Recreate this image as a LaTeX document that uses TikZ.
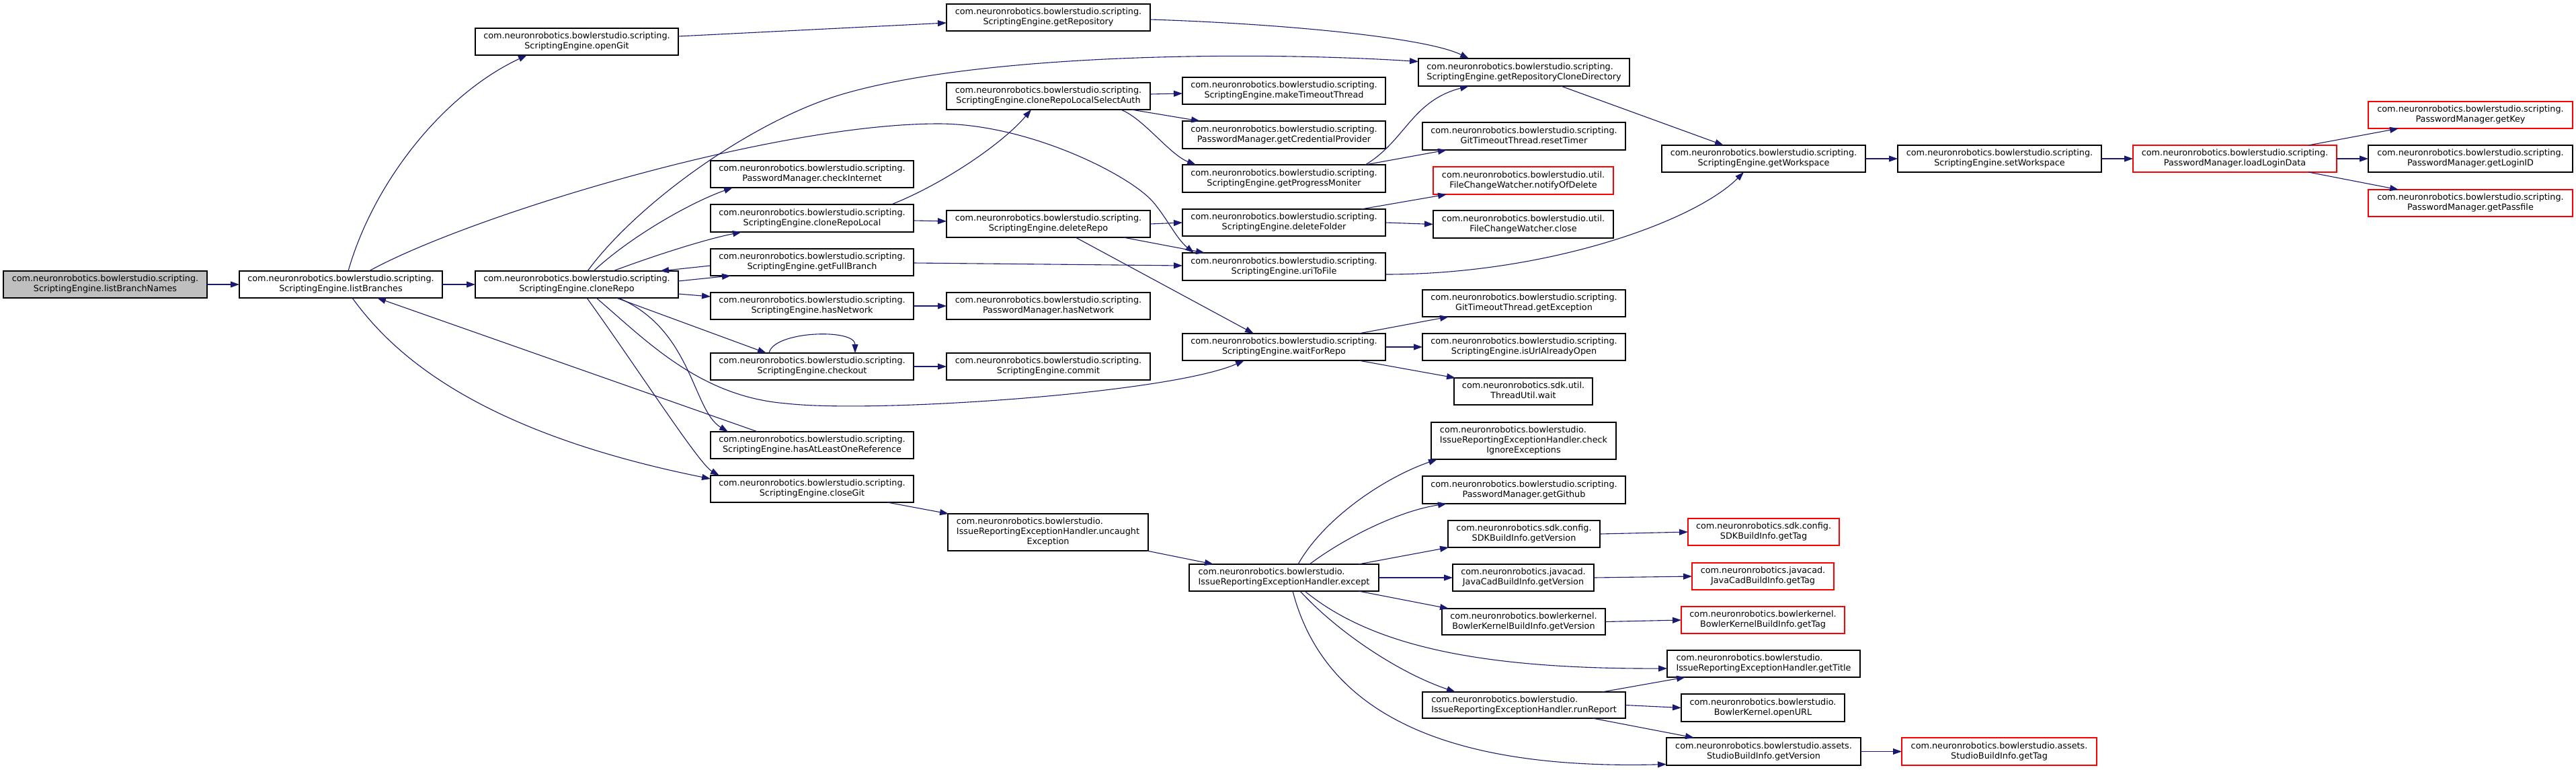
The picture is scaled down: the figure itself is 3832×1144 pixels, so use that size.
\documentclass[tikz,border=0pt]{standalone}
\usepackage{fontspec}
\setmainfont{DejaVu Sans}
\usetikzlibrary{arrows.meta}
\definecolor{edgeblue}{HTML}{191970}
\definecolor{nodegray}{HTML}{BFBFBF}
\definecolor{boxred}{HTML}{FF0000}
\newcommand{\twol}[2]{\begin{tabular}{@{}l@{}}#1\\\multicolumn{1}{@{}c@{}}{#2}\end{tabular}}
\newcommand{\threel}[3]{\begin{tabular}{@{}l@{}}#1\\#2\\\multicolumn{1}{@{}c@{}}{#3}\end{tabular}}
\newcommand{\dnode}[7][]{\node[nbox,#1,minimum width={(#5-#3)*1pt},minimum height={(#6-#4)*1pt}] (#2) at ({(#3+#5)/2},{(#4+#6)/2}) {#7};}
\tikzset{
  nbox/.style={draw=black, fill=white, line width=1.2pt, inner sep=0pt, outer sep=0pt, rectangle,
    font=\fontsize{12.8}{15}\selectfont},
  cnx/.style={draw=edgeblue, line width=1.1pt, -{Triangle[length=13pt,width=9pt]}},
}
\begin{document}
\begin{tikzpicture}[x=1pt,y=-1pt]
\useasboundingbox (0,0) rectangle (3832,1144);
\fill[white] (0,0) rectangle (3832,1144);
% column 0-2
\dnode[fill=nodegray]{lbn}{5}{403}{308}{443}{\twol{com.neuronrobotics.bowlerstudio.scripting.}{ScriptingEngine.listBranchNames}}
\dnode{lb}{356}{403}{658}{443}{\twol{com.neuronrobotics.bowlerstudio.scripting.}{ScriptingEngine.listBranches}}
\dnode{cr}{707}{403}{1009}{443}{\twol{com.neuronrobotics.bowlerstudio.scripting.}{ScriptingEngine.cloneRepo}}
\dnode{og}{707}{42}{1009}{82}{\twol{com.neuronrobotics.bowlerstudio.scripting.}{ScriptingEngine.openGit}}
% column 3
\dnode{ci}{1057}{239}{1359}{279}{\twol{com.neuronrobotics.bowlerstudio.scripting.}{PasswordManager.checkInternet}}
\dnode{crl}{1057}{304}{1359}{345}{\twol{com.neuronrobotics.bowlerstudio.scripting.}{ScriptingEngine.cloneRepoLocal}}
\dnode{gfb}{1057}{370}{1359}{410}{\twol{com.neuronrobotics.bowlerstudio.scripting.}{ScriptingEngine.getFullBranch}}
\dnode{shn}{1057}{435}{1359}{475}{\twol{com.neuronrobotics.bowlerstudio.scripting.}{ScriptingEngine.hasNetwork}}
\dnode{co}{1057}{525}{1359}{565}{\twol{com.neuronrobotics.bowlerstudio.scripting.}{ScriptingEngine.checkout}}
\dnode{haor}{1057}{642}{1359}{682}{\twol{com.neuronrobotics.bowlerstudio.scripting.}{ScriptingEngine.hasAtLeastOneReference}}
\dnode{cg}{1057}{707}{1359}{747}{\twol{com.neuronrobotics.bowlerstudio.scripting.}{ScriptingEngine.closeGit}}
% column 4
\dnode{gr}{1408}{6}{1711}{46}{\twol{com.neuronrobotics.bowlerstudio.scripting.}{ScriptingEngine.getRepository}}
\dnode{crlsa}{1408}{123}{1711}{163}{\twol{com.neuronrobotics.bowlerstudio.scripting.}{ScriptingEngine.cloneRepoLocalSelectAuth}}
\dnode{dr}{1408}{313}{1711}{353}{\twol{com.neuronrobotics.bowlerstudio.scripting.}{ScriptingEngine.deleteRepo}}
\dnode{phn}{1408}{435}{1711}{475}{\twol{com.neuronrobotics.bowlerstudio.scripting.}{PasswordManager.hasNetwork}}
\dnode{cm}{1408}{525}{1711}{565}{\twol{com.neuronrobotics.bowlerstudio.scripting.}{ScriptingEngine.commit}}
\dnode{ue}{1410}{764}{1708}{819}{\threel{com.neuronrobotics.bowlerstudio.}{IssueReportingExceptionHandler.uncaught}{Exception}}
% column 5
\dnode{mtt}{1759}{115}{2061}{155}{\twol{com.neuronrobotics.bowlerstudio.scripting.}{ScriptingEngine.makeTimeoutThread}}
\dnode{gcp}{1759}{180}{2061}{221}{\twol{com.neuronrobotics.bowlerstudio.scripting.}{PasswordManager.getCredentialProvider}}
\dnode{gpm}{1759}{245}{2061}{286}{\twol{com.neuronrobotics.bowlerstudio.scripting.}{ScriptingEngine.getProgressMoniter}}
\dnode{df}{1759}{311}{2061}{351}{\twol{com.neuronrobotics.bowlerstudio.scripting.}{ScriptingEngine.deleteFolder}}
\dnode{utf}{1759}{376}{2061}{417}{\twol{com.neuronrobotics.bowlerstudio.scripting.}{ScriptingEngine.uriToFile}}
\dnode{wfr}{1759}{496}{2061}{536}{\twol{com.neuronrobotics.bowlerstudio.scripting.}{ScriptingEngine.waitForRepo}}
\dnode{ex}{1769}{839}{2051}{879}{\twol{com.neuronrobotics.bowlerstudio.}{IssueReportingExceptionHandler.except}}
% column 6
\dnode{grcd}{2110}{87}{2424}{128}{\twol{com.neuronrobotics.bowlerstudio.scripting.}{ScriptingEngine.getRepositoryCloneDirectory}}
\dnode{rt}{2116}{182}{2418}{223}{\twol{com.neuronrobotics.bowlerstudio.scripting.}{GitTimeoutThread.resetTimer}}
\dnode[draw=boxred]{nod}{2132}{248}{2400}{289}{\twol{com.neuronrobotics.bowlerstudio.util.}{FileChangeWatcher.notifyOfDelete}}
\dnode{fcwc}{2132}{313}{2400}{354}{\twol{com.neuronrobotics.bowlerstudio.util.}{FileChangeWatcher.close}}
\dnode{ge}{2116}{431}{2418}{471}{\twol{com.neuronrobotics.bowlerstudio.scripting.}{GitTimeoutThread.getException}}
\dnode{iuao}{2116}{496}{2418}{536}{\twol{com.neuronrobotics.bowlerstudio.scripting.}{ScriptingEngine.isUrlAlreadyOpen}}
\dnode{tuw}{2163}{562}{2369}{602}{\twol{com.neuronrobotics.sdk.util.}{ThreadUtil.wait}}
\dnode{cie}{2129}{628}{2404}{683}{\threel{com.neuronrobotics.bowlerstudio.}{IssueReportingExceptionHandler.check}{IgnoreExceptions}}
\dnode{gg}{2116}{708}{2418}{749}{\twol{com.neuronrobotics.bowlerstudio.scripting.}{PasswordManager.getGithub}}
\dnode{sdkv}{2154}{774}{2380}{814}{\twol{com.neuronrobotics.sdk.config.}{SDKBuildInfo.getVersion}}
\dnode{jcv}{2161}{839}{2371}{879}{\twol{com.neuronrobotics.javacad.}{JavaCadBuildInfo.getVersion}}
\dnode{bkv}{2145}{905}{2388}{944}{\twol{com.neuronrobotics.bowlerkernel.}{BowlerKernelBuildInfo.getVersion}}
\dnode{rr}{2116}{1029}{2418}{1068}{\twol{com.neuronrobotics.bowlerstudio.}{IssueReportingExceptionHandler.runReport}}
% column 7
\dnode{gws}{2472}{216}{2775}{256}{\twol{com.neuronrobotics.bowlerstudio.scripting.}{ScriptingEngine.getWorkspace}}
\dnode[draw=boxred]{sdkt}{2511}{771}{2736}{811}{\twol{com.neuronrobotics.sdk.config.}{SDKBuildInfo.getTag}}
\dnode[draw=boxred]{jct}{2517}{837}{2728}{877}{\twol{com.neuronrobotics.javacad.}{JavaCadBuildInfo.getTag}}
\dnode[draw=boxred]{bkt}{2501}{902}{2744}{942}{\twol{com.neuronrobotics.bowlerkernel.}{BowlerKernelBuildInfo.getTag}}
\dnode{gt}{2480}{967}{2767}{1007}{\twol{com.neuronrobotics.bowlerstudio.}{IssueReportingExceptionHandler.getTitle}}
\dnode{ou}{2501}{1032}{2744}{1073}{\twol{com.neuronrobotics.bowlerstudio.}{BowlerKernel.openURL}}
\dnode{sbv}{2479}{1097}{2768}{1138}{\twol{com.neuronrobotics.bowlerstudio.assets.}{StudioBuildInfo.getVersion}}
% columns 8-10
\dnode{sw}{2823}{216}{3126}{256}{\twol{com.neuronrobotics.bowlerstudio.scripting.}{ScriptingEngine.setWorkspace}}
\dnode[draw=boxred]{sbt}{2829}{1097}{3119}{1138}{\twol{com.neuronrobotics.bowlerstudio.assets.}{StudioBuildInfo.getTag}}
\dnode[draw=boxred]{lld}{3173}{216}{3476}{256}{\twol{com.neuronrobotics.bowlerstudio.scripting.}{PasswordManager.loadLoginData}}
\dnode[draw=boxred]{gk}{3523}{151}{3827}{191}{\twol{com.neuronrobotics.bowlerstudio.scripting.}{PasswordManager.getKey}}
\dnode{gli}{3523}{216}{3827}{256}{\twol{com.neuronrobotics.bowlerstudio.scripting.}{PasswordManager.getLoginID}}
\dnode[draw=boxred]{gpf}{3523}{282}{3827}{322}{\twol{com.neuronrobotics.bowlerstudio.scripting.}{PasswordManager.getPassfile}}

% ---------- connectors ----------
\draw[cnx] (lbn.east) -- (lb.west);
\draw[cnx] (lb.east) -- (cr.west);
\draw[cnx] ([xshift=162pt]lb.north west) .. controls (556,270) and (660,140) .. ([xshift=77pt]og.south west);
\draw[cnx] ([xshift=193pt]lb.north west) .. controls (700,320) and (1150,184) .. (1396,184)
  .. controls (1530,184) and (1680,260) .. (1715,300)
  .. controls (1735,323) and (1750,355) .. ([xshift=17pt]utf.north west);
\draw[cnx] ([xshift=168pt]lb.south west) .. controls (580,520) and (700,640) .. ([yshift=15pt]cg.west);
\draw[cnx] ([xshift=70pt]haor.north west) -- ([xshift=205pt]lb.south west);
\draw[cnx] ([xshift=167pt]cr.north west) .. controls (950,300) and (1120,180) .. (1250,141)
  .. controls (1450,81) and (1850,75) .. ([yshift=16pt]grcd.west);
\draw[cnx] ([xshift=176pt]cr.north west) .. controls (940,350) and (1030,300) .. ([xshift=33pt]ci.south west);
\draw[cnx] ([xshift=205pt]cr.north west) .. controls (960,385) and (1040,358) .. ([xshift=46pt]crl.south west);
\draw[cnx] ([yshift=-5pt]gfb.west) -- ([xshift=-27pt]cr.north east);
\draw[cnx] ([yshift=5pt]cr.east) -- ([xshift=30pt]gfb.south west);
\draw[cnx] ([yshift=-14pt]cr.east) -- ([yshift=14pt]shn.west);
\draw[cnx] ([xshift=210pt]cr.south west) -- ([xshift=83pt]co.north west);
\draw[cnx] ([xshift=87pt]co.north west) .. controls (1150,492) and (1272,488) .. ([xshift=215pt]co.north west);
\draw[cnx] (co.east) -- (cm.west);
\draw[cnx] ([xshift=180pt]cr.south west) .. controls (960,505) and (1040,590) .. (1170,600)
  .. controls (1300,615) and (1740,585) .. ([xshift=92pt]wfr.south west);
\draw[cnx] ([xshift=213pt]cr.south west) .. controls (1030,490) and (1030,610) .. ([xshift=26pt]haor.north west);
\draw[cnx] ([xshift=166pt]cr.south west) .. controls (950,550) and (1040,690) .. ([xshift=13pt]cg.north west);
\draw[cnx] ([xshift=269pt]crl.north west) .. controls (1400,275) and (1490,215) .. ([xshift=126pt]crlsa.south west);
\draw[cnx] ([yshift=-3.5pt]crl.east) -- ([yshift=4pt]dr.west);
\draw[cnx] ([yshift=-1pt]gfb.east) -- ([yshift=1.5pt]utf.west);
\draw[cnx] (shn.east) -- (phn.west);
\draw[cnx] ([yshift=8pt]og.east) -- ([yshift=-8pt]gr.west);
\draw[cnx] ([yshift=-3pt]gr.east) .. controls (1900,35) and (2120,55) .. ([xshift=75pt]grcd.north west);
\draw[cnx] ([yshift=3pt]crlsa.east) -- ([yshift=-4pt]mtt.west);
\draw[cnx] ([xshift=-28pt]crlsa.south east) -- ([xshift=26pt]gcp.north west);
\draw[cnx] ([xshift=-44pt]crlsa.south east) .. controls (1700,175) and (1740,230) .. ([xshift=20pt]gpm.north west);
\draw[cnx] (dr.east) -- (df.west);
\draw[cnx] ([xshift=-40pt]dr.south east) -- ([xshift=33pt]utf.north west);
\draw[cnx] ([xshift=192pt]dr.south west) -- ([xshift=106pt]wfr.north west);
\draw[cnx] ([xshift=-30pt]gpm.north east) .. controls (2090,210) and (2100,150) .. ([xshift=75pt]grcd.south west);
\draw[cnx] ([xshift=-30pt]gpm.north east) -- ([xshift=36pt]rt.south west);
\draw[cnx] ([xshift=-36pt]df.north east) -- ([xshift=20pt]nod.south west);
\draw[cnx] (df.east) -- (fcwc.west);
\draw[cnx] ([yshift=-11.5pt]utf.east) .. controls (2300,408) and (2520,330) .. ([xshift=122pt]gws.south west);
\draw[cnx] ([xshift=212pt]grcd.south west) -- ([xshift=92pt]gws.north west);
\draw[cnx] (gws.east) -- (sw.west);
\draw[cnx] (sw.east) -- (lld.west);
\draw[cnx] ([xshift=261pt]lld.north west) -- ([xshift=45pt]gk.south west);
\draw[cnx] (lld.east) -- (gli.west);
\draw[cnx] ([xshift=261pt]lld.south west) -- ([xshift=45pt]gpf.north west);
\draw[cnx] ([xshift=-40pt]wfr.north east) -- ([xshift=39pt]ge.south west);
\draw[cnx] (wfr.east) -- (iuao.west);
\draw[cnx] ([xshift=-40pt]wfr.south east) -- ([xshift=2pt]tuw.north west);
\draw[cnx] ([xshift=263pt]cg.south west) -- ([xshift=1pt]ue.north west);
\draw[cnx] ([xshift=-2pt]ue.south east) -- ([xshift=36pt]ex.north west);
\draw[cnx] ([xshift=162pt]ex.north west) .. controls (1970,770) and (2060,710) .. ([xshift=9pt]cie.south west);
\draw[cnx] ([xshift=179pt]ex.north west) .. controls (2000,800) and (2080,760) .. ([xshift=36pt]gg.south west);
\draw[cnx] ([xshift=-30pt]ex.north east) -- ([xshift=1pt]sdkv.south west);
\draw[cnx] (ex.east) -- (jcv.west);
\draw[cnx] ([xshift=-30pt]ex.south east) -- ([xshift=10pt]bkv.north west);
\draw[cnx] ([xshift=172pt]ex.south west) .. controls (2040,960) and (2200,995) .. ([yshift=-7pt]gt.west);
\draw[cnx] ([xshift=165pt]ex.south west) .. controls (1990,940) and (2080,1000) .. ([xshift=49pt]rr.north west);
\draw[cnx] ([xshift=154pt]ex.south west) .. controls (1970,1060) and (2150,1145) .. ([yshift=-19pt]sbv.west);
\draw[cnx] ([xshift=-35pt]rr.north east) -- ([xshift=27pt]gt.south west);
\draw[cnx] (rr.east) -- (ou.west);
\draw[cnx] ([xshift=-49pt]rr.south east) -- ([xshift=41pt]sbv.north west);
\draw[cnx] (sdkv.east) -- (sdkt.west);
\draw[cnx] (jcv.east) -- (jct.west);
\draw[cnx] (bkv.east) -- (bkt.west);
\draw[cnx] (sbv.east) -- (sbt.west);
\end{tikzpicture}
\end{document}
